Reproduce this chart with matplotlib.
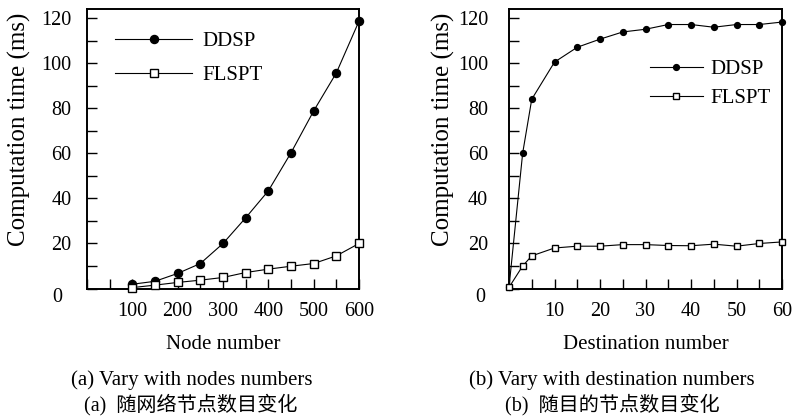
import matplotlib
matplotlib.use("Agg")
import matplotlib.pyplot as plt
from matplotlib.ticker import MultipleLocator

plt.rcParams['font.family'] = ['Liberation Serif', 'Noto Sans CJK SC', 'DejaVu Sans']

# ---- data ----
node_numbers = [100, 150, 200, 250, 300, 350, 400, 450, 500, 550, 600]
ddsp_nodes = [1.9, 3.2, 6.7, 11.1, 20.0, 31.4, 43.4, 60.3, 78.9, 95.8, 118.8]
flspt_nodes = [0.4, 1.5, 2.7, 3.7, 4.9, 7.1, 8.6, 9.9, 11.1, 14.5, 20.0]

dest_numbers = [0, 3, 5, 10, 15, 20, 25, 30, 35, 40, 45, 50, 55, 60]
ddsp_dest = [0.5, 60.1, 84.1, 100.6, 107.2, 110.8, 114.0, 115.2, 117.3, 117.3, 116.1, 117.3, 117.3, 118.4]
flspt_dest = [0.5, 10.0, 14.5, 18.0, 18.8, 18.8, 19.5, 19.5, 19.1, 19.0, 19.7, 18.8, 20.0, 20.7]

y_ticks = [0, 20, 40, 60, 80, 100, 120]
x_ticks_a = [100, 200, 300, 400, 500, 600]
x_ticks_b = [10, 20, 30, 40, 50, 60]

series_names = ['DDSP', 'FLSPT']
ylabel = 'Computation time (ms)'
xlabel_a = 'Node number'
xlabel_b = 'Destination number'
caption_a = ['(a) Vary with nodes numbers', '(a)  随网络节点数目变化']
caption_b = ['(b) Vary with destination numbers', '(b)  随目的节点数目变化']

W, H = 795, 416
fig = plt.figure(figsize=(W / 100, H / 100), dpi=100)

def rect(x0, x1, y0, y1):
    return [x0 / W, 1 - y1 / H, (x1 - x0) / W, (y1 - y0) / H]

axA = fig.add_axes(rect(87, 359, 9, 288.5))
axB = fig.add_axes(rect(509, 782, 9, 288.5))

FS = 14.5

def style(ax, xlim, xminor, ypad, xticks):
    ax.set_ylim(0, 124.2)
    ax.set_xlim(*xlim)
    for s in ax.spines.values():
        s.set_linewidth(1.4)
    ax.set_yticks(y_ticks)
    ax.set_yticklabels([''] + [str(v) for v in y_ticks[1:]])
    ax.yaxis.set_minor_locator(MultipleLocator(10))
    ax.set_xticks(xticks)
    ax.xaxis.set_minor_locator(MultipleLocator(xminor))
    ax.tick_params(axis='both', which='both', direction='in', top=False, right=False,
                   width=1.0, labelsize=FS, length=7)
    ax.tick_params(axis='y', pad=ypad)
    ax.tick_params(axis='x', pad=10)

style(axA, (0, 600), 50, 11, x_ticks_a)
style(axB, (0, 60), 5, 15, x_ticks_b)

# plot A
axA.plot(node_numbers, ddsp_nodes, '-', color='black', lw=0.8, marker='o',
         ms=5.8, mfc='black', mec='black', label=series_names[0], clip_on=False, zorder=3)
axA.plot(node_numbers, flspt_nodes, '-', color='black', lw=0.8, marker='s',
         ms=5.8, mfc='white', mec='black', mew=1.0, label=series_names[1], clip_on=False, zorder=3)
axA.legend(loc='upper left', bbox_to_anchor=(0.103, 0.92), frameon=False, fontsize=15,
           handlelength=3.7, handletextpad=0.5, labelspacing=0.7, borderpad=0,
           borderaxespad=0, numpoints=1)

# plot B
axB.plot(dest_numbers, ddsp_dest, '-', color='black', lw=0.8, marker='o',
         ms=4.2, mfc='black', mec='black', label=series_names[0], clip_on=False, zorder=3)
axB.plot(dest_numbers, flspt_dest, '-', color='black', lw=0.8, marker='s',
         ms=4.5, mfc='white', mec='black', mew=1.0, label=series_names[1], clip_on=False, zorder=3)
axB.legend(loc='upper left', bbox_to_anchor=(0.516, 0.82), frameon=False, fontsize=15,
           handlelength=2.55, handletextpad=0.35, labelspacing=0.45, borderpad=0,
           borderaxespad=0, numpoints=1)

# zero labels (placed slightly below like the original)
fig.text(57 / W, 1 - 297 / H, '0', ha='center', va='center', fontsize=FS)
fig.text(480 / W, 1 - 298 / H, '0', ha='center', va='center', fontsize=FS)

# axis labels
axA.set_xlabel(xlabel_a, fontsize=15)
axB.set_xlabel(xlabel_b, fontsize=15)
fig.text(19.5 / W, 1 - 129 / H, ylabel, rotation=90, ha='center', va='center', fontsize=18)
fig.text(443 / W, 1 - 129 / H, ylabel, rotation=90, ha='center', va='center', fontsize=18)
axA.xaxis.set_label_coords(0.5, -0.165)
axB.xaxis.set_label_coords(0.5, -0.165)

# captions
fig.text(192 / W, 1 - 380 / H, caption_a[0], ha='center', va='center', fontsize=15)
fig.text(191 / W, 1 - 405 / H, caption_a[1], ha='center', va='center', fontsize=14.5,
         family=['Liberation Serif', 'Noto Sans CJK SC'])
fig.text(612 / W, 1 - 380 / H, caption_b[0], ha='center', va='center', fontsize=15)
fig.text(612 / W, 1 - 405 / H, caption_b[1], ha='center', va='center', fontsize=14.5,
         family=['Liberation Serif', 'Noto Sans CJK SC'])

fig.savefig('out.png', dpi=100)
